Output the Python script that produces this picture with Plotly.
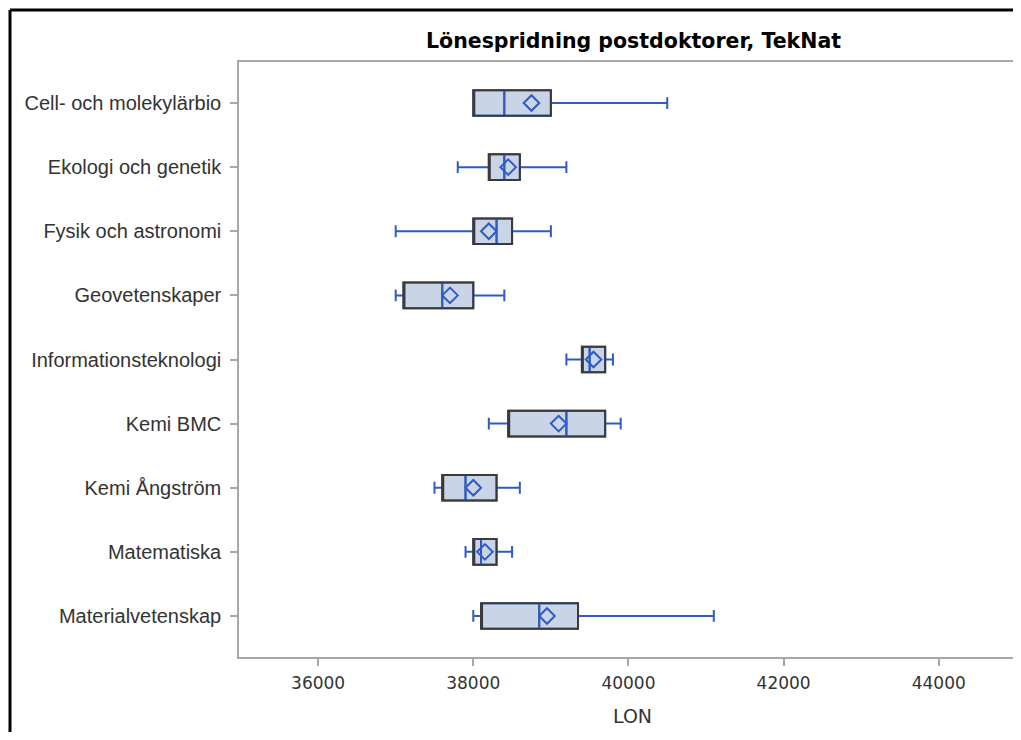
import plotly.graph_objects as go

categories = ["Cell- och molekylärbio", "Ekologi och genetik", "Fysik och astronomi",
              "Geovetenskaper", "Informationsteknologi", "Kemi BMC", "Kemi Ångström",
              "Matematiska", "Materialvetenskap"]
min_vals = [38000, 37800, 37000, 37000, 39200, 38200, 37500, 37900, 38000]
q1_vals = [38000, 38200, 38000, 37100, 39400, 38450, 37600, 38000, 38100]
median_vals = [38400, 38400, 38300, 37600, 39500, 39200, 37900, 38100, 38850]
q3_vals = [39000, 38600, 38500, 38000, 39700, 39700, 38300, 38300, 39350]
max_vals = [40500, 39200, 39000, 38400, 39800, 39900, 38600, 38500, 41100]
mean_vals = [38750, 38450, 38200, 37700, 39550, 39100, 38000, 38150, 38950]

x_ticks = [36000, 38000, 40000, 42000, 44000]

FILL = "#C9D4E6"
BLUE = "#2F5BC2"
OUTLINE = "#3A3A3A"
FONT = "Liberation Sans, Arial, sans-serif"
FONT2 = "DejaVu Sans, Verdana, sans-serif"

fig = go.Figure()

# Box with whiskers and median in blue
fig.add_trace(go.Box(
    y=categories, orientation="h",
    q1=q1_vals, median=median_vals, q3=q3_vals,
    lowerfence=min_vals, upperfence=max_vals,
    fillcolor=FILL, line=dict(color=BLUE, width=2),
    whiskerwidth=0.46, width=0.40, boxpoints=False,
    showlegend=False, hoverinfo="skip",
))
# Dark outline of the box on top
fig.add_trace(go.Box(
    y=categories, orientation="h",
    q1=q1_vals, median=q1_vals, q3=q3_vals,
    lowerfence=q1_vals, upperfence=q3_vals,
    fillcolor="rgba(0,0,0,0)", line=dict(color=OUTLINE, width=2),
    whiskerwidth=0, width=0.40, boxpoints=False,
    showlegend=False, hoverinfo="skip",
))
# Blue median drawn again above outline
fig.add_trace(go.Box(
    y=categories, orientation="h",
    q1=median_vals, median=median_vals, q3=median_vals,
    lowerfence=median_vals, upperfence=median_vals,
    fillcolor="rgba(0,0,0,0)", line=dict(color=BLUE, width=2),
    whiskerwidth=0, width=0.36, boxpoints=False,
    showlegend=False, hoverinfo="skip",
))
# Mean markers
fig.add_trace(go.Scatter(
    x=mean_vals, y=categories, mode="markers",
    marker=dict(symbol="diamond-open", size=12, color=BLUE, line=dict(width=2, color=BLUE)),
    showlegend=False, hoverinfo="skip",
))

# page has an 8px body margin; figure pixel = page pixel - 8
OFF = 8
W, H = 1021 - OFF, 740 - 2 * OFF
L, T = 239 - OFF, 62 - OFF
B = H - (657 - OFF)
R = 0
pw, ph = W - L - R, H - T - B

def px_x(p):
    return (p - OFF - L) / pw

def px_y(p):
    return (H - B - (p - OFF)) / ph

fig.update_layout(
    width=W, height=H,
    margin=dict(l=L, r=R, t=T, b=B, pad=0),
    paper_bgcolor="white", plot_bgcolor="white",
    boxmode="overlay",
    font=dict(family=FONT, size=20, color="#333333"),
    xaxis=dict(
        range=[34980, 45060], tickvals=x_ticks, ticktext=[str(v) for v in x_ticks],
        showgrid=False, zeroline=False,
        showline=True, linecolor="#A8A8A8", linewidth=1.5, mirror=True,
        ticks="outside", ticklen=7, tickcolor="#A8A8A8", tickwidth=1.5,
        ticklabelstandoff=3,
        tickfont=dict(family=FONT2, size=17, color="#333333"),
    ),
    yaxis=dict(
        categoryorder="array", categoryarray=categories,
        autorange=False, range=[8.64, -0.64],
        showgrid=False, zeroline=False,
        showline=True, linecolor="#A8A8A8", linewidth=1.5,
        ticks="outside", ticklen=7, tickcolor="#A8A8A8", tickwidth=1.5,
        ticklabelstandoff=5,
        tickfont=dict(family=FONT, size=20, color="#333333"),
    ),
    annotations=[
        dict(text="<b>Lönespridning postdoktorer, TekNat</b>", showarrow=False,
             xref="paper", yref="paper", x=px_x(633), y=px_y(41),
             xanchor="center", yanchor="middle",
             font=dict(family=FONT2, size=20.5, color="#000000")),
        dict(text="LON", showarrow=False,
             xref="paper", yref="paper", x=px_x(632), y=px_y(716),
             xanchor="center", yanchor="middle",
             font=dict(family=FONT2, size=19, color="#333333")),
    ],
    shapes=[
        dict(type="line", xref="paper", yref="paper",
             x0=px_x(10), x1=px_x(10), y0=px_y(10), y1=px_y(760),
             line=dict(color="black", width=3)),
        dict(type="line", xref="paper", yref="paper",
             x0=px_x(10), x1=px_x(1040), y0=px_y(10), y1=px_y(10),
             line=dict(color="black", width=3)),
    ],
)

fig.write_html("out.html")
